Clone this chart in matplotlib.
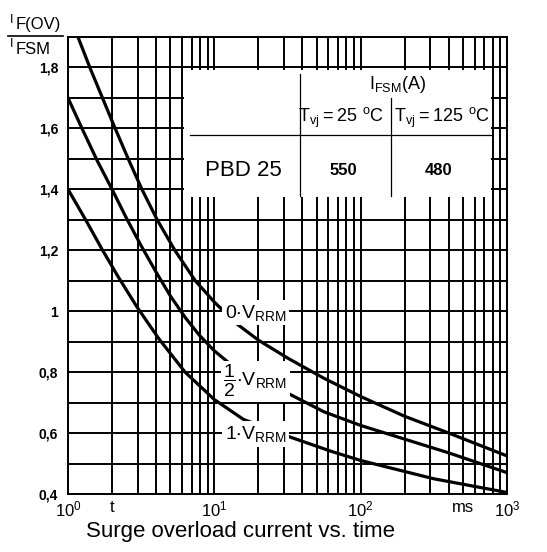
import numpy as np
import matplotlib
matplotlib.use("Agg")
import matplotlib.pyplot as plt
from matplotlib.ticker import FixedLocator, NullFormatter
from matplotlib.lines import Line2D
import matplotlib.patches as patches

plt.rcParams['font.family'] = ['Liberation Sans', 'DejaVu Sans']
plt.rcParams['mathtext.default'] = 'regular'

# curves: t in ms, I_F(OV)/I_FSM
t_0v = [1.17, 1.41, 1.72, 2.1, 2.58, 3.2, 4.07, 5.37, 7.41, 10, 14.1, 20, 32, 56, 100, 200, 400, 1000]
v_0v = [1.9, 1.8, 1.7, 1.6, 1.5, 1.4, 1.3, 1.2, 1.1, 1.03, 0.96, 0.905, 0.845, 0.78, 0.72, 0.655, 0.6, 0.525]
t_half = [1, 1.26, 1.58, 2, 2.51, 3.16, 3.98, 5.01, 6.31, 7.94, 10, 12.6, 17.8, 32, 56, 100, 200, 400, 1000]
v_half = [1.7, 1.595, 1.495, 1.4, 1.305, 1.215, 1.13, 1.05, 0.98, 0.92, 0.87, 0.83, 0.78, 0.73, 0.67, 0.625, 0.58, 0.535, 0.47]
t_full = [1, 1.32, 1.7, 2.19, 2.95, 4.17, 6.31, 10, 15.8, 31.6, 63, 100, 316, 1000]
v_full = [1.4, 1.3, 1.205, 1.115, 1.015, 0.91, 0.8, 0.71, 0.645, 0.59, 0.54, 0.51, 0.45, 0.405]

curve_labels = [r'$0{\cdot}V_{RRM}$', r'$\dfrac{1}{2}{\cdot}V_{RRM}$', r'$1{\cdot}V_{RRM}$']
label_y = [0.995, 0.77, 0.597]

xticks = [1, 2, 10, 100, 500, 1000]
xlabels = [r'$10^0$', 't', r'$10^1$', r'$10^2$', 'ms', r'$10^3$']
yticks = [0.4, 0.6, 0.8, 1.0, 1.2, 1.4, 1.6, 1.8]
ylabels = ['0,4', '0,6', '0,8', '1', '1,2', '1,4', '1,6', '1,8']

device = 'PBD 25'
ifsm_25, ifsm_125 = 550, 480

fig = plt.figure(figsize=(5.47, 5.52), dpi=100)
ax = fig.add_axes([68/547, 1-494/552, 439/547, 457/552])
ax.set_xscale('log')
ax.set_xlim(1, 1000)
ax.set_ylim(0.4, 1.9)

lw_grid = 1.4
ax.xaxis.set_major_locator(FixedLocator(xticks))
ax.set_xticklabels(xlabels, fontsize=12)
minx = [m * 10**d for d in range(3) for m in range(1, 10)]
ax.xaxis.set_minor_locator(FixedLocator(minx))
ax.xaxis.set_minor_formatter(NullFormatter())
ax.set_yticks(yticks)
ax.set_yticklabels(ylabels, fontsize=10, fontweight='bold')
ax.tick_params(which='both', length=0)
ax.tick_params(axis='y', pad=7)
ax.tick_params(axis='x', pad=4)
for xx in minx + [1000]:
    ax.axvline(xx, color='black', lw=lw_grid, zorder=1)
for yy in np.arange(0.4, 1.95, 0.1):
    ax.axhline(yy, color='black', lw=lw_grid, zorder=1)
for s in ax.spines.values():
    s.set_linewidth(lw_grid)

for t, v in [(t_0v, v_0v), (t_half, v_half), (t_full, v_full)]:
    ax.plot(t, v, color='black', lw=2.3, zorder=3, solid_joinstyle='round')

for lab, yv in zip(curve_labels, label_y):
    ax.text(19.1, yv, lab, fontsize=14, ha='center', va='center', zorder=5,
            bbox=dict(facecolor='white', edgecolor='none', pad=2))

# table box
ax.add_patch(patches.Rectangle((6.2, 1.375), 780 - 6.2, 1.793 - 1.375,
                               facecolor='white', edgecolor='none', zorder=4))
tl = dict(color='black', lw=0.9, zorder=5)
ax.plot([38.2, 38.2], [1.78, 1.377], **tl)
ax.plot([160, 160], [1.70, 1.377], **tl)
ax.plot([6.85, 777], [1.578, 1.578], **tl)
ax.text(179, 1.745, r'$I_{FSM}(A)$', fontsize=13, ha='center', va='center', zorder=6)
ax.text(74, 1.635, r'$T_{vj}=25\ ^oC$', fontsize=13, ha='center', va='center', zorder=6)
ax.text(359, 1.635, r'$T_{vj}=125\ ^oC$', fontsize=13, ha='center', va='center', zorder=6)
ax.text(15.8, 1.462, device, fontsize=16, ha='center', va='center', zorder=6)
ax.text(76.6, 1.462, str(ifsm_25), fontsize=12, fontweight='bold', ha='center', va='center', zorder=6)
ax.text(340, 1.462, str(ifsm_125), fontsize=12, fontweight='bold', ha='center', va='center', zorder=6)

# y label as a fraction
fig.text(10/547, 1-20/552, 'I', fontsize=9, ha='left', va='center')
fig.text(16/547, 1-25/552, 'F(OV)', fontsize=12, ha='left', va='center')
fig.text(10/547, 1-44/552, 'I', fontsize=9, ha='left', va='center')
fig.text(16/547, 1-49/552, 'FSM', fontsize=12, ha='left', va='center')
fig.add_artist(Line2D([8/547, 63/547], [1-36/552, 1-36/552], color='black', lw=1.2))

fig.text(240/547, 1-531/552, 'Surge overload current vs. time', fontsize=16,
         ha='center', va='center')

plt.savefig('out.png', dpi=100)
